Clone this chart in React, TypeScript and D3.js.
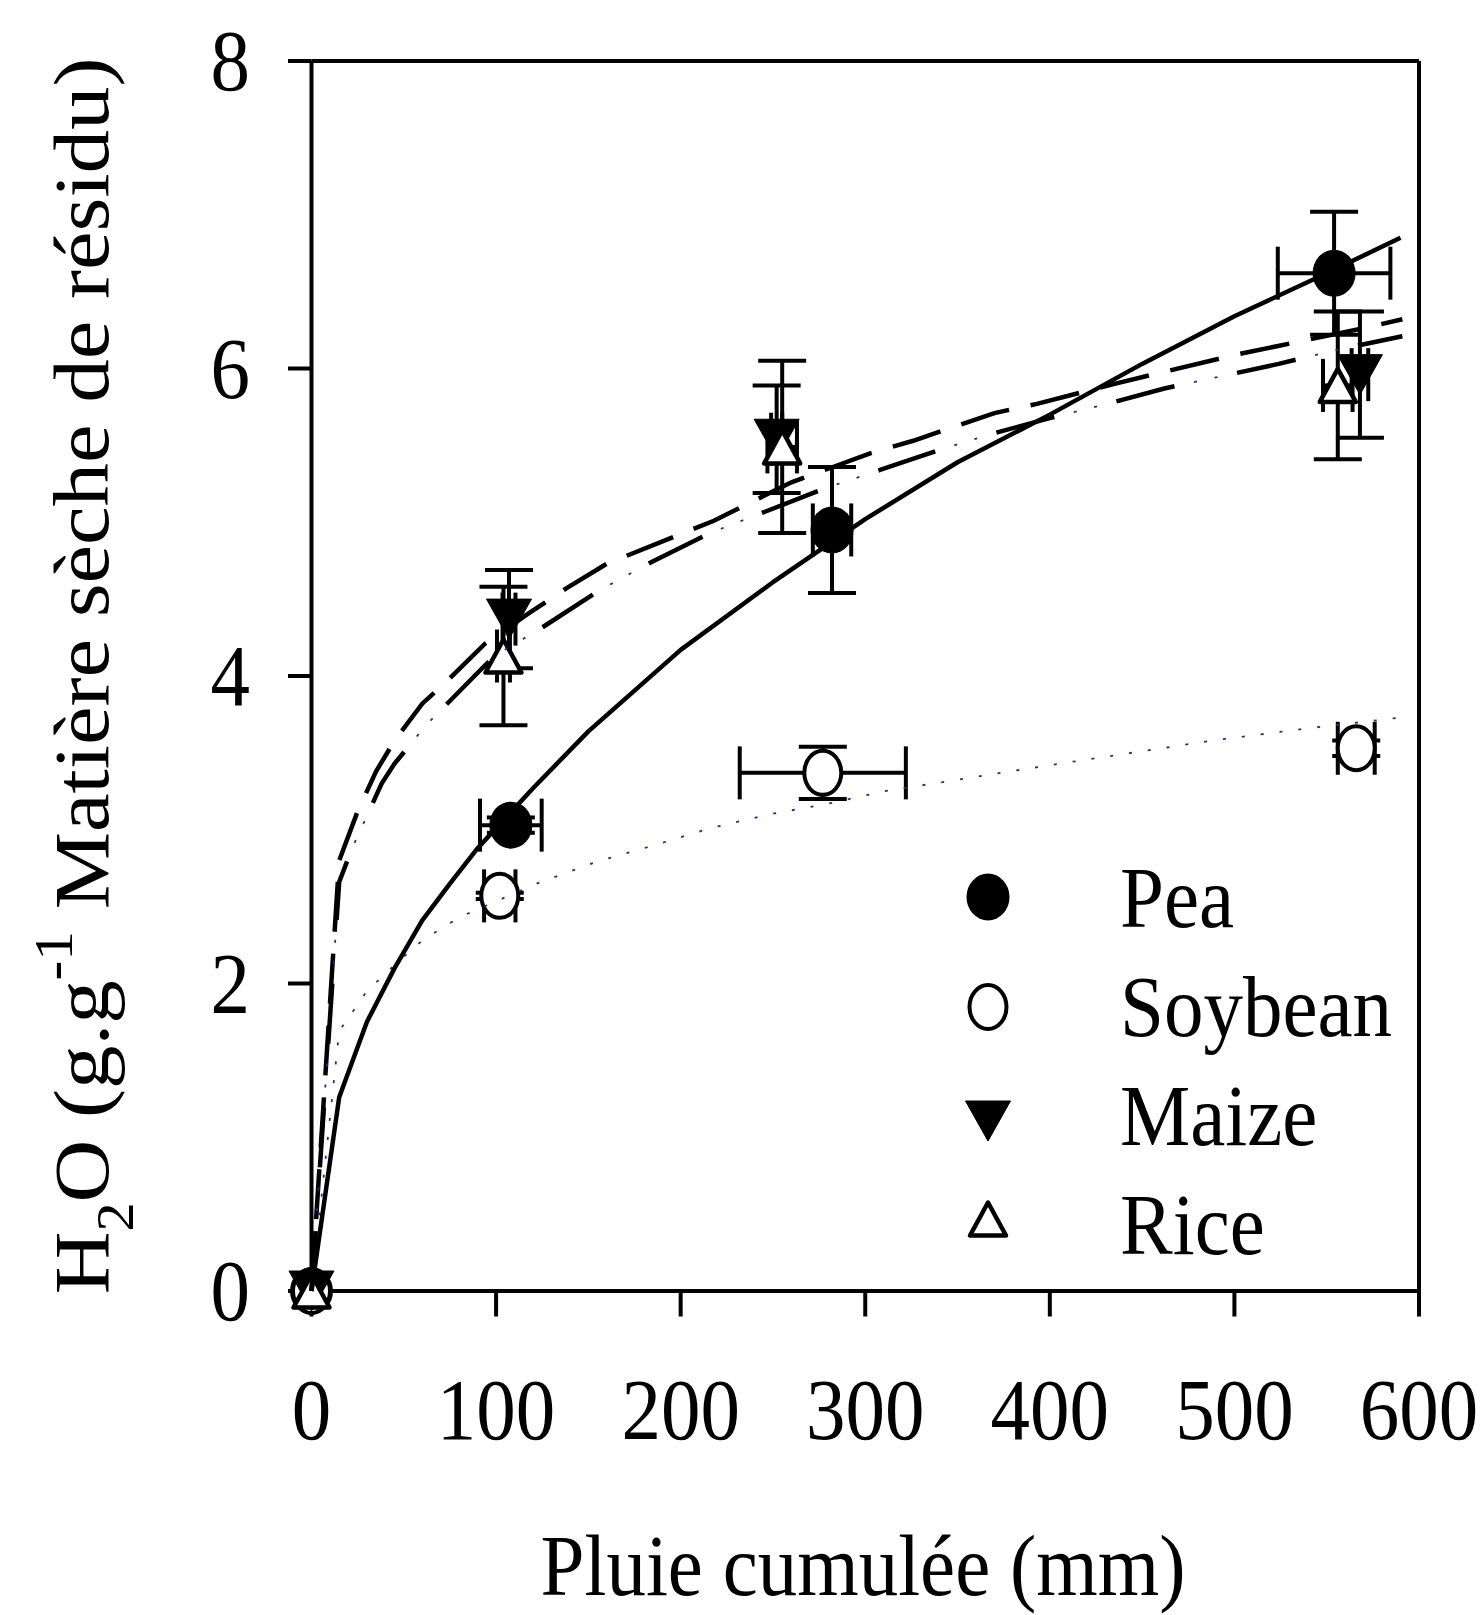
import React from "react";
import * as d3 from "d3";

const W = 1484;
const H = 1615;

const xTicks = [0, 100, 200, 300, 400, 500, 600];
const yTicks = [0, 2, 4, 6, 8];

// Observed data (mean ± error)
const peaX = [0, 108, 282, 554];
const peaY = [0, 3.03, 4.95, 6.62];
const peaXErr = [0, 16.7, 10.4, 30.5];
const peaYErr = [0, 0.05, 0.41, 0.4];

const soyX = [0, 102, 277, 566];
const soyY = [0, 2.57, 3.37, 3.53];
const soyXErr = [0, 8.5, 45, 10];
const soyYErr = [0, 0.02, 0.17, 0.05];

const maizeX = [0, 107, 252, 568];
const maizeY = [0, 4.37, 5.54, 5.96];
const maizeXErr = [0, 3.5, 3, 4.5];
const maizeYErr = [0, 0.32, 0.35, 0.41];

const riceX = [0, 104, 255, 556];
const riceY = [0, 4.13, 5.49, 5.89];
const riceXErr = [0, 3.5, 8, 8];
const riceYErr = [0, 0.45, 0.56, 0.48];

// Fitted curves
const peaFitX = [0, 15, 30, 45, 60, 75, 90, 120, 150, 200, 250, 300, 350, 400, 450, 500, 550, 590];
const peaFitY = [0, 1.26, 1.75, 2.1, 2.41, 2.65, 2.88, 3.27, 3.64, 4.17, 4.61, 5.02, 5.39, 5.7, 6.03, 6.34, 6.62, 6.85];

const maizeFitX = [0, 15, 25, 35, 45, 60, 72, 94, 118, 138, 160, 218, 260, 303, 326, 370, 393, 435, 459, 501, 525, 569, 591];
const maizeFitY = [0, 2.8, 3.12, 3.38, 3.58, 3.82, 3.95, 4.21, 4.41, 4.57, 4.73, 5.01, 5.26, 5.45, 5.53, 5.71, 5.77, 5.9, 5.97, 6.09, 6.15, 6.26, 6.32];

const riceFitX = [0, 15, 22, 38, 45, 62, 99, 123, 155, 184, 216, 246, 278, 308, 340, 370, 401, 431, 462, 493, 524, 555, 591];
const riceFitY = [0, 2.66, 2.88, 3.3, 3.43, 3.68, 4.13, 4.3, 4.55, 4.74, 4.93, 5.07, 5.22, 5.34, 5.47, 5.58, 5.68, 5.77, 5.87, 5.95, 6.03, 6.12, 6.21];

const soyFitX = [0, 15, 30, 45, 60, 80, 122, 154, 186, 216, 248, 280, 310, 400, 488, 540, 590];
const soyFitY = [0, 1.69, 1.95, 2.12, 2.28, 2.43, 2.65, 2.79, 2.9, 3.01, 3.1, 3.17, 3.25, 3.42, 3.58, 3.66, 3.73];

const legendLabels = ["Pea", "Soybean", "Maize", "Rice"];

const FONT = "'Liberation Serif', 'Times New Roman', serif";
const FS = 79;
const VS = 1.1; // vertical stretch of the original figure

type Kind = "filledCircle" | "openCircle" | "filledDown" | "openUp";

function Marker({ kind, cx, cy }: { kind: Kind; cx: number; cy: number }) {
  if (kind === "filledCircle")
    return <ellipse cx={cx} cy={cy} rx={21.5} ry={23.5} fill="#000" />;
  if (kind === "openCircle")
    return <ellipse cx={cx} cy={cy} rx={18.5} ry={22} fill="#fff" stroke="#000" strokeWidth={4} />;
  if (kind === "filledDown")
    return (
      <path
        d={`M${cx - 22.5},${cy - 20} L${cx + 22.5},${cy - 20} L${cx},${cy + 20} Z`}
        fill="#000"
        stroke="#000"
        strokeWidth={1}
        strokeLinejoin="round"
      />
    );
  return (
    <path
      d={`M${cx - 18},${cy + 16.5} L${cx + 18},${cy + 16.5} L${cx},${cy - 16.5} Z`}
      fill="#fff"
      stroke="#000"
      strokeWidth={4.5}
      strokeLinejoin="round"
    />
  );
}

function Txt({ x, y, anchor = "start", children, size = FS }: any) {
  return (
    <text
      transform={`translate(${x},${y}) scale(1,${VS})`}
      textAnchor={anchor}
      fontFamily={FONT}
      fontSize={size}
      fill="#000"
    >
      {children}
    </text>
  );
}

export default function App() {
  const x = d3.scaleLinear().domain([0, 600]).range([311.5, 1419]);
  const y = d3.scaleLinear().domain([0, 8]).range([1291, 61]);
  const line = d3
    .line<[number, number]>()
    .x((d) => x(d[0]))
    .y((d) => y(d[1]));
  const zip = (a: number[], b: number[]) => a.map((v, i) => [v, b[i]] as [number, number]);

  const series = [
    { kind: "filledCircle" as Kind, xs: peaX, ys: peaY, xe: peaXErr, ye: peaYErr },
    { kind: "openCircle" as Kind, xs: soyX, ys: soyY, xe: soyXErr, ye: soyYErr },
    { kind: "filledDown" as Kind, xs: maizeX, ys: maizeY, xe: maizeXErr, ye: maizeYErr },
    { kind: "openUp" as Kind, xs: riceX, ys: riceY, xe: riceXErr, ye: riceYErr },
  ];

  const capW = 24;
  const capH = 26.5;
  const sw = 4;

  const riceD = line(zip(riceFitX, riceFitY)) || "";
  const maizeD = line(zip(maizeFitX, maizeFitY)) || "";
  const peaD = line(zip(peaFitX, peaFitY)) || "";
  const soyD = line(zip(soyFitX, soyFitY)) || "";

  const legendY = [897, 1007, 1121, 1219];
  const legendBase = [927, 1036, 1145, 1254];

  return (
    <svg
      width={W}
      height={H}
      viewBox={`0 0 ${W} ${H}`}
      style={{ position: "absolute", left: 0, top: 0, background: "#fff" }}
    >
      <rect x={0} y={0} width={W} height={H} fill="#fff" />

      {/* frame */}
      <g stroke="#000" strokeWidth={sw} fill="none">
        <line x1={x(0)} x2={x(600)} y1={y(0)} y2={y(0)} />
        <line x1={x(0)} x2={x(600)} y1={y(8)} y2={y(8)} />
        <line x1={x(0)} x2={x(0)} y1={y(0)} y2={y(8)} />
        <line x1={x(600)} x2={x(600)} y1={y(0)} y2={y(8)} />
        {yTicks.map((t) => (
          <line key={"yt" + t} x1={x(0) - 23.5} x2={x(0)} y1={y(t)} y2={y(t)} />
        ))}
        {xTicks.map((t) => (
          <line key={"xt" + t} x1={x(t)} x2={x(t)} y1={y(0)} y2={y(0) + 25.5} />
        ))}
      </g>

      {/* tick labels */}
      {yTicks.map((t) => (
        <Txt key={"yl" + t} x={250} y={y(t) + 29} anchor="end">
          {t}
        </Txt>
      ))}
      {xTicks.map((t) => (
        <Txt key={"xl" + t} x={x(t)} y={1439} anchor="middle">
          {t}
        </Txt>
      ))}

      {/* axis titles */}
      <Txt x={863} y={1595} anchor="middle">
        Pluie cumulée (mm)
      </Txt>
      <text
        transform={`translate(108,676) rotate(-90) scale(${VS},1)`}
        textAnchor="middle"
        fontFamily={FONT}
        fontSize={FS}
        fill="#000"
      >
        H
        <tspan fontSize={53} dy={25}>
          2
        </tspan>
        <tspan dy={-25}>O (g.g</tspan>
        <tspan fontSize={54} dy={-36}>
          -1
        </tspan>
        <tspan dy={36}> Matière sèche de résidu)</tspan>
      </text>

      {/* error bars + markers */}
      {series.map((s, si) => (
        <g key={"s" + si}>
          <g stroke="#000" strokeWidth={sw} fill="none">
            {s.xs.map((xv, i) => {
              const cx = x(xv);
              const cy = y(s.ys[i]);
              const out: any[] = [];
              if (s.ye[i] > 0) {
                const y1 = y(s.ys[i] + s.ye[i]);
                const y2 = y(s.ys[i] - s.ye[i]);
                out.push(<line key="v" x1={cx} x2={cx} y1={y1} y2={y2} />);
                out.push(<line key="c1" x1={cx - capW} x2={cx + capW} y1={y1} y2={y1} />);
                out.push(<line key="c2" x1={cx - capW} x2={cx + capW} y1={y2} y2={y2} />);
              }
              if (s.xe[i] > 0) {
                const x1 = x(xv - s.xe[i]);
                const x2 = x(xv + s.xe[i]);
                out.push(<line key="h" x1={x1} x2={x2} y1={cy} y2={cy} />);
                out.push(<line key="d1" x1={x1} x2={x1} y1={cy - capH} y2={cy + capH} />);
                out.push(<line key="d2" x1={x2} x2={x2} y1={cy - capH} y2={cy + capH} />);
              }
              return <g key={i}>{out}</g>;
            })}
          </g>
          {s.xs.map((xv, i) => (
            <Marker key={"m" + i} kind={s.kind} cx={x(xv)} cy={y(s.ys[i])} />
          ))}
        </g>
      ))}

      {/* fitted curves */}
      <path d={soyD} fill="none" stroke="#2626a8" strokeWidth={1.8} strokeDasharray="3 16" />
      <path d={peaD} fill="none" stroke="#000" strokeWidth={4.5} strokeLinejoin="round" />
      <path d={maizeD} fill="none" stroke="#000" strokeWidth={4.5} strokeDasharray="50 22" />
      <path d={riceD} fill="none" stroke="#000" strokeWidth={4.5} strokeDasharray="60 64" />
      <path
        d={riceD}
        fill="none"
        stroke="#2626a8"
        strokeWidth={1.8}
        strokeDasharray="3 18 3 100"
        strokeDashoffset={44}
      />

      {/* legend */}
      {legendLabels.map((lab, i) => (
        <g key={"lg" + i}>
          <Marker kind={series[i].kind} cx={988} cy={legendY[i]} />
          <Txt x={1120} y={legendBase[i]}>
            {lab}
          </Txt>
        </g>
      ))}
    </svg>
  );
}
